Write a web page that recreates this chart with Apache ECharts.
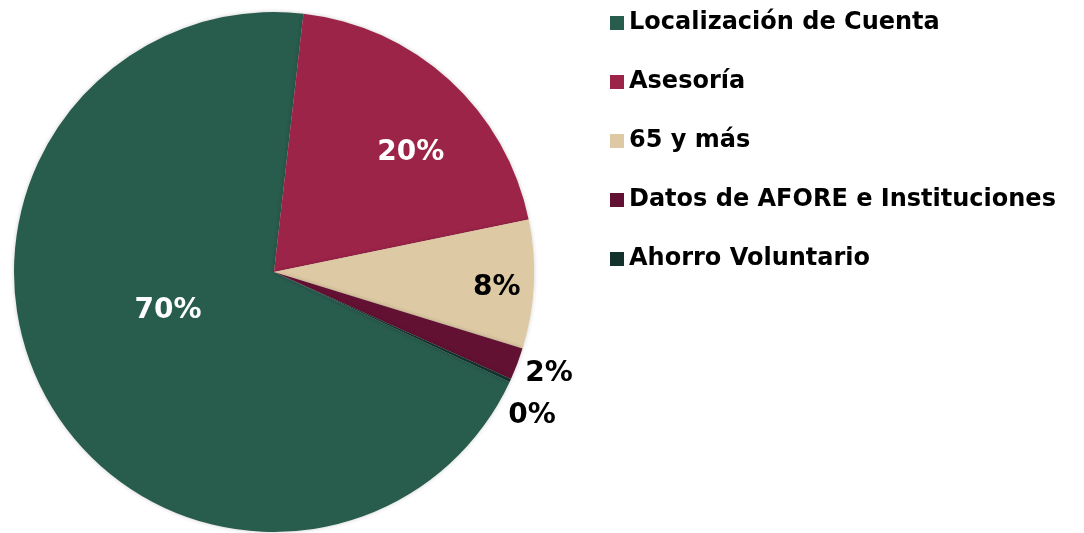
<!DOCTYPE html>
<html>
<head>
<meta charset="utf-8">
<script src="https://cdn.jsdelivr.net/npm/echarts@6/dist/echarts.min.js"></script>
<style>
  html, body { margin: 0; padding: 0; background: #fff; }
  #main { width: 1084px; height: 533px; }
</style>
</head>
<body>
<div id="main"></div>
<script>
// datos
var categorias = ['Localización de Cuenta', 'Asesoría', '65 y más', 'Datos de AFORE e Instituciones', 'Ahorro Voluntario']
var valores = [70, 20, 8, 2, 0.2]
var colores = ['#285C4D', '#9D2449', '#DDC9A3', '#621132', '#13322B']

var fuente = 'DejaVu Sans'
// ajustes de etiquetas por rebanada
var etiquetas = [
  { position: 'inside', color: '#fff', offset: [10, -26] },
  { position: 'inside', color: '#fff', offset: [47, -21] },
  { position: 'inside', color: '#000', offset: [90, 9] },
  { position: 'outside', color: '#000', offset: [3, 10] },
  { position: 'outside', color: '#000', offset: [-7, 35] }
]

var data = []
categorias.forEach(function (c, i) {
  data.push({
    name: c,
    value: valores[i],
    itemStyle: { color: colores[i] },
    label: etiquetas[i]
  })
})

var myChart = echarts.init(document.getElementById('main'))
var option = {
  animation: false,
  legend: {
    orient: 'vertical',
    left: 605,
    top: 5,
    itemWidth: 14,
    itemHeight: 14,
    itemGap: 33,
    icon: 'rect',
    data: categorias,
    textStyle: {
      fontFamily: fuente,
      fontWeight: 'bold',
      fontSize: 24,
      lineHeight: 26,
      color: '#000'
    }
  },
  series: [
    {
      type: 'pie',
      center: [274, 272],
      radius: 260,
      startAngle: -25,
      clockwise: true,
      avoidLabelOverlap: true,
      itemStyle: {
        shadowBlur: 4,
        shadowColor: 'rgba(0,0,0,0.2)'
      },
      label: {
        fontFamily: fuente,
        fontWeight: 'bold',
        fontSize: 28,
        formatter: function (p) {
          return Math.round(p.percent) + '%'
        }
      },
      labelLine: { show: false, length: 0, length2: 0 },
      emphasis: { disabled: true },
      data: data
    }
  ]
}
myChart.setOption(option)
</script>
</body>
</html>
